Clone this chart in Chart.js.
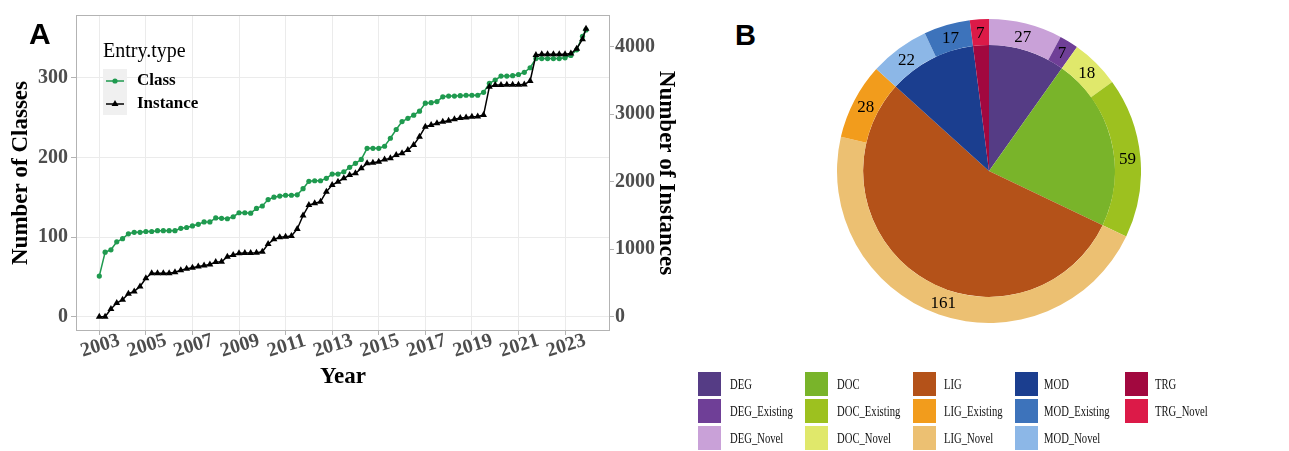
<!DOCTYPE html>
<html>
<head>
<meta charset="utf-8">
<script src="https://cdn.jsdelivr.net/npm/chart.js"></script>
<style>
  html, body { margin: 0; padding: 0; background: #fff; }
  #page { position: relative; width: 1289px; height: 451px; overflow: hidden; }
  #lineChart { position: absolute; left: 0; top: 0; }
  #pieChart { position: absolute; left: 837px; top: 19px; }
  .tag { position: absolute; font: bold 30px 'Liberation Sans', Arial, sans-serif; line-height: 30px; color: #000; }
  .sw { position: absolute; width: 23px; height: 24px; }
  .lb { position: absolute; font: 15px 'Liberation Serif', 'Times New Roman', serif; line-height: 24px; height: 24px;
        transform: scaleX(0.71); transform-origin: left center; white-space: nowrap; color: #111; }
</style>
</head>
<body>
<div id="page">
  <canvas id="lineChart" width="700" height="451"></canvas>
  <canvas id="pieChart" width="304" height="304"></canvas>
  <div class="tag" style="left:29px; top:19px;">A</div>
  <div class="tag" style="left:735px; top:20px; font-size:29px;">B</div>
  <div id="pieLegend"></div>
</div>
<script>
// ---- panel A data (quarterly snapshots) ----
const years = [
  2003, 2003.25, 2003.5, 2003.75, 2004, 2004.25, 2004.5, 2004.75,
  2005, 2005.25, 2005.5, 2005.75, 2006, 2006.25, 2006.5, 2006.75,
  2007, 2007.25, 2007.5, 2007.75, 2008, 2008.25, 2008.5, 2008.75,
  2009, 2009.25, 2009.5, 2009.75, 2010, 2010.25, 2010.5, 2010.75,
  2011, 2011.25, 2011.5, 2011.75, 2012, 2012.25, 2012.5, 2012.75,
  2013, 2013.25, 2013.5, 2013.75, 2014, 2014.25, 2014.5, 2014.75,
  2015, 2015.25, 2015.5, 2015.75, 2016, 2016.25, 2016.5, 2016.75,
  2017, 2017.25, 2017.5, 2017.75, 2018, 2018.25, 2018.5, 2018.75,
  2019, 2019.25, 2019.5, 2019.75, 2020, 2020.25, 2020.5, 2020.75,
  2021, 2021.25, 2021.5, 2021.75, 2022, 2022.25, 2022.5, 2022.75,
  2023, 2023.25, 2023.5, 2023.75, 2023.9
];
const classCounts = [
  51, 81, 84, 94, 98, 104, 106, 106,
  107, 107, 108, 108, 108, 108, 111, 112,
  114, 116, 119, 119, 124, 123.5, 123, 125.5,
  130.5, 130.5, 130, 136, 139, 147, 150, 151.5,
  152.5, 152.5, 153, 160.7, 170, 170.7, 170.7, 173.7,
  179, 179, 182, 187.5, 192.5, 197.5, 211.4, 211.4,
  211.4, 214, 224, 235, 245, 249, 253, 258,
  268, 268.6, 270, 276, 277, 277, 277.5, 278,
  278, 278, 281.6, 293, 297, 302, 302, 302.5,
  304, 306.7, 312.5, 324, 324, 324, 324, 324,
  325, 328, 335, 352, 360
];
const instanceCounts = [
  0, 0, 114, 203, 252, 341, 375, 449,
  570, 645, 645, 645, 645, 660, 690, 710,
  725, 745, 760, 775, 810, 815, 889, 914,
  939, 945, 945, 948, 963, 1077, 1146, 1176,
  1185, 1195, 1300, 1500, 1655, 1680, 1704, 1852,
  1951, 2000, 2050, 2099, 2124, 2198, 2272, 2281,
  2296, 2331, 2346, 2396, 2420, 2470, 2544, 2667,
  2815, 2840, 2865, 2889, 2904, 2924, 2945, 2950,
  2963, 2965, 2988, 3407, 3432, 3432, 3435, 3435,
  3435, 3440, 3492, 3877, 3887, 3887, 3887, 3887,
  3890, 3900, 3970, 4110, 4265
];
const yearTicks = [2003, 2005, 2007, 2009, 2011, 2013, 2015, 2017, 2019, 2021, 2023];
const classTicks = [0, 100, 200, 300];
const instanceTicks = [0, 1000, 2000, 3000, 4000];

// ---- panel B data ----
const outerLabels = ['DEG_Novel', 'DEG_Existing', 'DOC_Novel', 'DOC_Existing', 'LIG_Novel',
                     'LIG_Existing', 'MOD_Novel', 'MOD_Existing', 'TRG_Novel'];
const outerValues = [27, 7, 18, 59, 161, 28, 22, 17, 7];
const innerLabels = ['DEG', 'DOC', 'LIG', 'MOD', 'TRG'];
const innerValues = [34, 77, 189, 39, 7];
const legendColumns = [
  ['DEG', 'DEG_Existing', 'DEG_Novel'],
  ['DOC', 'DOC_Existing', 'DOC_Novel'],
  ['LIG', 'LIG_Existing', 'LIG_Novel'],
  ['MOD', 'MOD_Existing', 'MOD_Novel'],
  ['TRG', 'TRG_Novel']
];

const palette = {
  DEG: '#553c85', DEG_Existing: '#6f3f97', DEG_Novel: '#c9a1d8',
  DOC: '#79b42a', DOC_Existing: '#9dc11f', DOC_Novel: '#e0e86b',
  LIG: '#b45219', LIG_Existing: '#f29c1c', LIG_Novel: '#ecc072',
  MOD: '#1b3e8f', MOD_Existing: '#3d73bb', MOD_Novel: '#8cb7e7',
  TRG: '#a2083f', TRG_Novel: '#dc1a48'
};

const serif = "'Liberation Serif', 'Times New Roman', serif";
const tickGrey = '#4d4d4d';
const frameGrey = '#b3b3b3';
const gridGrey = '#ebebeb';
const classGreen = '#1f9a4f';

const tickFont = { family: serif, size: 20, weight: 'bold' };
const titleFont = { family: serif, size: 23, weight: 'bold' };

// draws the panel frame, rotated year labels and the inset key
const panelA = {
  id: 'panelA',
  afterDraw(chart) {
    const ctx = chart.ctx;
    const area = chart.chartArea;
    ctx.save();
    ctx.strokeStyle = frameGrey;
    ctx.lineWidth = 1;
    ctx.strokeRect(area.left + 0.5, area.top + 0.5, area.right - area.left - 1, area.bottom - area.top - 1);

    const xs = chart.scales.x;
    ctx.fillStyle = tickGrey;
    ctx.font = `bold 20px ${serif}`;
    ctx.textAlign = 'center';
    ctx.textBaseline = 'middle';
    yearTicks.forEach(v => {
      ctx.save();
      ctx.translate(xs.getPixelForValue(v) + 1, area.bottom + 15);
      ctx.rotate(-17 * Math.PI / 180);
      ctx.fillText(String(v), 0, 0);
      ctx.restore();
    });

    // key
    ctx.fillStyle = '#000';
    ctx.textAlign = 'left';
    ctx.font = `20px ${serif}`;
    ctx.fillText('Entry.type', 103, 52);
    ctx.fillStyle = '#f0f0f0';
    ctx.fillRect(103, 69, 24, 46);
    const keys = [
      { label: 'Class', color: classGreen, shape: 'circle', y: 81 },
      { label: 'Instance', color: '#000', shape: 'triangle', y: 104 }
    ];
    keys.forEach(k => {
      ctx.strokeStyle = k.color;
      ctx.fillStyle = k.color;
      ctx.lineWidth = 1.5;
      ctx.beginPath();
      ctx.moveTo(106, k.y);
      ctx.lineTo(124, k.y);
      ctx.stroke();
      ctx.beginPath();
      if (k.shape === 'circle') {
        ctx.arc(115, k.y, 2.6, 0, Math.PI * 2);
      } else {
        const r = 4;
        for (let i = 0; i < 3; i++) {
          const a = i * 2 * Math.PI / 3;
          const px = 115 + Math.sin(a) * r, py = k.y - Math.cos(a) * r;
          if (i === 0) ctx.moveTo(px, py); else ctx.lineTo(px, py);
        }
        ctx.closePath();
      }
      ctx.fill();
      ctx.fillStyle = '#000';
      ctx.font = `bold 17px ${serif}`;
      ctx.fillText(k.label, 137, k.y);
    });
    ctx.restore();
  }
};

new Chart(document.getElementById('lineChart'), {
  type: 'line',
  data: {
    datasets: [
      {
        label: 'Instance',
        data: years.map((x, i) => ({ x: x, y: instanceCounts[i] })),
        yAxisID: 'y1',
        order: 1,
        borderColor: '#000',
        backgroundColor: '#000',
        borderWidth: 1.5,
        pointStyle: 'triangle',
        pointRadius: 4,
        pointBorderWidth: 0,
        tension: 0
      },
      {
        label: 'Class',
        data: years.map((x, i) => ({ x: x, y: classCounts[i] })),
        yAxisID: 'y',
        order: 2,
        borderColor: classGreen,
        backgroundColor: classGreen,
        borderWidth: 1.5,
        pointStyle: 'circle',
        pointRadius: 2.6,
        pointBorderWidth: 0,
        tension: 0
      }
    ]
  },
  options: {
    responsive: false,
    animation: false,
    layout: { padding: { top: 15, left: 0, right: 0, bottom: 0 } },
    plugins: { legend: { display: false }, tooltip: { enabled: false } },
    scales: {
      x: {
        type: 'linear',
        bounds: 'data',
        min: 2002.0,
        max: 2024.93,
        afterBuildTicks: s => { s.ticks = yearTicks.map(v => ({ value: v })); },
        afterFit: s => { s.height = 120; },
        grid: { color: gridGrey, lineWidth: 1, tickLength: 4, tickColor: frameGrey },
        border: { display: false },
        ticks: { display: false },
        title: { display: true, text: 'Year', font: titleFont, color: '#000', padding: { top: 0, bottom: 60 } }
      },
      y: {
        position: 'left',
        bounds: 'data',
        min: -17.9,
        max: 378.7,
        afterBuildTicks: s => { s.ticks = classTicks.map(v => ({ value: v })); },
        afterFit: s => { s.width = 76; },
        grid: { color: gridGrey, lineWidth: 1, tickLength: 5, tickColor: frameGrey },
        border: { display: false },
        ticks: { font: tickFont, color: tickGrey, padding: 3, callback: v => String(v) },
        title: { display: true, text: 'Number of Classes', font: titleFont, color: '#000', padding: { top: 7, bottom: 0 } }
      },
      y1: {
        position: 'right',
        bounds: 'data',
        min: -211.5,
        max: 4470,
        afterBuildTicks: s => { s.ticks = instanceTicks.map(v => ({ value: v })); },
        afterFit: s => { s.width = 90; },
        grid: { drawOnChartArea: false, tickLength: 4, tickColor: frameGrey },
        border: { display: false },
        ticks: { font: tickFont, color: tickGrey, padding: 1, callback: v => String(v) },
        title: { display: true, text: 'Number of Instances', font: titleFont, color: '#000', padding: { top: 20, bottom: 0 } }
      }
    }
  },
  plugins: [panelA]
});

// value labels on the outer ring
const ringLabels = {
  id: 'ringLabels',
  afterDatasetsDraw(chart) {
    const ctx = chart.ctx;
    const meta = chart.getDatasetMeta(0);
    ctx.save();
    ctx.fillStyle = '#000';
    ctx.font = `17px ${serif}`;
    ctx.textAlign = 'center';
    ctx.textBaseline = 'middle';
    meta.data.forEach((arc, i) => {
      const p = arc.tooltipPosition();
      ctx.fillText(String(outerValues[i]), p.x, p.y + 1);
    });
    ctx.restore();
  }
};

new Chart(document.getElementById('pieChart'), {
  type: 'pie',
  data: {
    labels: outerLabels,
    datasets: [
      { data: outerValues, backgroundColor: outerLabels.map(n => palette[n]), weight: 26,
        borderWidth: 0, hoverBorderWidth: 0, hoverOffset: 0 },
      { data: innerValues, backgroundColor: innerLabels.map(n => palette[n]), weight: 125.5,
        borderWidth: 0, hoverBorderWidth: 0, hoverOffset: 0 }
    ]
  },
  options: {
    responsive: false,
    animation: false,
    layout: { padding: 0 },
    plugins: { legend: { display: false }, tooltip: { enabled: false } }
  },
  plugins: [ringLabels]
});

// legend for panel B
const legendBox = document.getElementById('pieLegend');
const colSquare = [698, 805, 913, 1015, 1125];
const colText = [730, 837, 944, 1044, 1155];
const rowTop = [372, 399, 426];
legendColumns.forEach((col, c) => {
  col.forEach((name, r) => {
    const sw = document.createElement('div');
    sw.className = 'sw';
    sw.style.left = colSquare[c] + 'px';
    sw.style.top = rowTop[r] + 'px';
    sw.style.background = palette[name];
    legendBox.appendChild(sw);
    const lb = document.createElement('div');
    lb.className = 'lb';
    lb.style.left = colText[c] + 'px';
    lb.style.top = rowTop[r] + 'px';
    lb.textContent = name;
    legendBox.appendChild(lb);
  });
});
</script>
</body>
</html>
